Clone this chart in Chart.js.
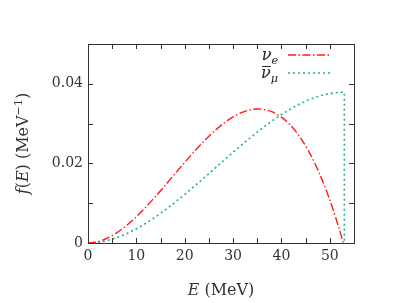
<!DOCTYPE html>
<html>
<head>
<meta charset="utf-8">
<script src="https://cdn.jsdelivr.net/npm/chart.js@4/dist/chart.umd.min.js"></script>
<style>
  html, body { margin: 0; padding: 0; background: #fff; }
  #wrap { width: 395px; height: 303px; }
</style>
</head>
<body>
<div id="wrap"><canvas id="myChart" width="395" height="303"></canvas></div>
<script>
// energies (MeV) and spectra
const energyE = [0, 2, 4, 6, 8, 10, 12, 14, 16, 18, 20, 22, 24, 26, 28, 30, 32, 34, 36, 38, 40, 42, 44, 46, 48, 50, 52, 52.8]
const fNuE = [0, 0.00031, 0.00121, 0.0026, 0.00443, 0.00661, 0.00907, 0.01174, 0.01455, 0.01741, 0.02026, 0.02302, 0.02561, 0.02797, 0.03002, 0.03168, 0.03289, 0.03356, 0.03362, 0.033, 0.03162, 0.02942, 0.02631, 0.02222, 0.01708, 0.01081, 0.00334, 0]

const energyMu = [0, 2, 4, 6, 8, 10, 12, 14, 16, 18, 20, 22, 24, 26, 28, 30, 32, 34, 36, 38, 40, 42, 44, 46, 48, 50, 52, 53, 53]
const fNuMuBar = [0, 0.00016, 0.00062, 0.00136, 0.00235, 0.00356, 0.00498, 0.00658, 0.00833, 0.01021, 0.01219, 0.01425, 0.01636, 0.01851, 0.02066, 0.02279, 0.02488, 0.02689, 0.02882, 0.03062, 0.03228, 0.03377, 0.03507, 0.03616, 0.037, 0.03757, 0.03785, 0.03788, 0]

const xTickLabels = [0, 10, 20, 30, 40, 50]
const yTickLabels = [0, 0.02, 0.04]

const serif = "'DejaVu Serif', serif"
const axisColor = '#333'

function toPoints(xs, ys){
	let pts = []
	for(let i=0;i<xs.length;i++){ pts.push({x: xs[i], y: ys[i]}) }
	return pts
}

// draw a row of text pieces with italic / sub / sup parts
function drawRuns(ctx, runs, x, y, size, align){
	let widths = []
	let total = 0
	runs.forEach(r => {
		let s = r.sub || r.sup ? size*0.7 : size
		ctx.font = (r.it ? 'italic ' : '') + s + 'px ' + serif
		let w = ctx.measureText(r.t).width
		widths.push(w)
		total += w
	})
	let cx = align=='center' ? x-total/2 : (align=='right' ? x-total : x)
	runs.forEach((r, i) => {
		let s = r.sub || r.sup ? size*0.7 : size
		ctx.font = (r.it ? 'italic ' : '') + s + 'px ' + serif
		let dy = r.sup ? -size*0.4 : (r.sub ? size*0.28 : 0)
		ctx.fillText(r.t, cx, y+dy)
		if(r.bar){
			ctx.beginPath()
			ctx.lineWidth = 1
			ctx.moveTo(cx+1, y-size*0.72)
			ctx.lineTo(cx+widths[i], y-size*0.72)
			ctx.stroke()
		}
		cx += widths[i]
	})
}

const framePlugin = {
	id: 'frame',
	afterDraw(chart){
		const ctx = chart.ctx
		const a = chart.chartArea
		const xs = chart.scales.x
		const ys = chart.scales.y
		ctx.save()
		ctx.strokeStyle = axisColor
		ctx.lineWidth = 1
		ctx.strokeRect(Math.round(a.left)+0.5, Math.round(a.top)+0.5, Math.round(a.right-a.left), Math.round(a.bottom-a.top))
		// inward ticks on all four sides
		let tl = 5
		ctx.beginPath()
		xs.ticks.forEach(t => {
			let px = Math.round(xs.getPixelForValue(t.value))+0.5
			ctx.moveTo(px, a.bottom); ctx.lineTo(px, a.bottom-tl)
			ctx.moveTo(px, a.top); ctx.lineTo(px, a.top+tl)
		})
		ys.ticks.forEach(t => {
			let py = Math.round(ys.getPixelForValue(t.value))+0.5
			ctx.moveTo(a.left, py); ctx.lineTo(a.left+tl, py)
			ctx.moveTo(a.right, py); ctx.lineTo(a.right-tl, py)
		})
		ctx.stroke()

		// axis titles
		ctx.fillStyle = axisColor
		ctx.strokeStyle = axisColor
		ctx.textBaseline = 'alphabetic'
		drawRuns(ctx, [{t:'E', it:true}, {t:' (MeV)'}], (a.left+a.right)/2, 295, 16, 'center')
		ctx.save()
		ctx.translate(28, (a.top+a.bottom)/2)
		ctx.rotate(-Math.PI/2)
		drawRuns(ctx, [{t:'f', it:true}, {t:'('}, {t:'E', it:true}, {t:') (MeV'}, {t:'\u22121', sup:true}, {t:')'}], 0, 0, 16, 'center')
		ctx.restore()

		// legend (text on the left, sample line on the right)
		let items = [
			{runs: [{t:'\u03bd', it:true}, {t:'e', it:true, sub:true}], y: 55},
			{runs: [{t:'\u03bd', it:true, bar:true}, {t:'\u03bc', it:true, sub:true}], y: 73}
		]
		items.forEach((it, i) => {
			let ds = chart.data.datasets[i]
			ctx.fillStyle = '#222'
			ctx.strokeStyle = '#222'
			drawRuns(ctx, it.runs, 278, it.y+5, 16, 'right')
			ctx.beginPath()
			ctx.strokeStyle = ds.borderColor
			ctx.lineWidth = ds.borderWidth
			ctx.setLineDash(ds.borderDash)
			ctx.moveTo(288, it.y)
			ctx.lineTo(331, it.y)
			ctx.stroke()
			ctx.setLineDash([])
		})
		ctx.restore()
	}
}

const myChart = new Chart(document.getElementById('myChart'), {
	type: 'line',
	data: {
		datasets: [
			{
				label: 'nu_e',
				data: toPoints(energyE, fNuE),
				borderColor: '#ff1a1a',
				borderWidth: 1.4,
				borderDash: [8, 2.5, 1.5, 2.5],
				pointRadius: 0,
				tension: 0.3,
				fill: false
			},
			{
				label: 'anti nu_mu',
				data: toPoints(energyMu, fNuMuBar),
				borderColor: '#1fb587',
				borderWidth: 1.6,
				borderDash: [2, 3],
				pointRadius: 0,
				tension: 0,
				fill: false
			}
		]
	},
	options: {
		responsive: false,
		animation: false,
		layout: { padding: { left: 0, right: 41, top: 44, bottom: 0 } },
		plugins: { legend: { display: false }, tooltip: { enabled: false } },
		scales: {
			x: {
				type: 'linear',
				min: 0,
				max: 55,
				grid: { display: false, drawTicks: false },
				border: { display: false },
				afterFit: s => { s.height = 60 },
				ticks: {
					stepSize: 5,
					padding: 5,
					color: axisColor,
					font: { family: serif, size: 14 },
					callback: v => xTickLabels.includes(v) ? String(v) : ''
				}
			},
			y: {
				type: 'linear',
				min: 0,
				max: 0.05,
				grid: { display: false, drawTicks: false },
				border: { display: false },
				afterFit: s => { s.width = 88 },
				ticks: {
					stepSize: 0.01,
					padding: 5,
					color: axisColor,
					font: { family: serif, size: 14 },
					callback: v => {
						let hit = yTickLabels.find(l => Math.abs(l-v) < 1e-9)
						if(hit === undefined) return ''
						return hit === 0 ? '0' : hit.toFixed(2)
					}
				}
			}
		}
	},
	plugins: [framePlugin]
})
</script>
</body>
</html>
